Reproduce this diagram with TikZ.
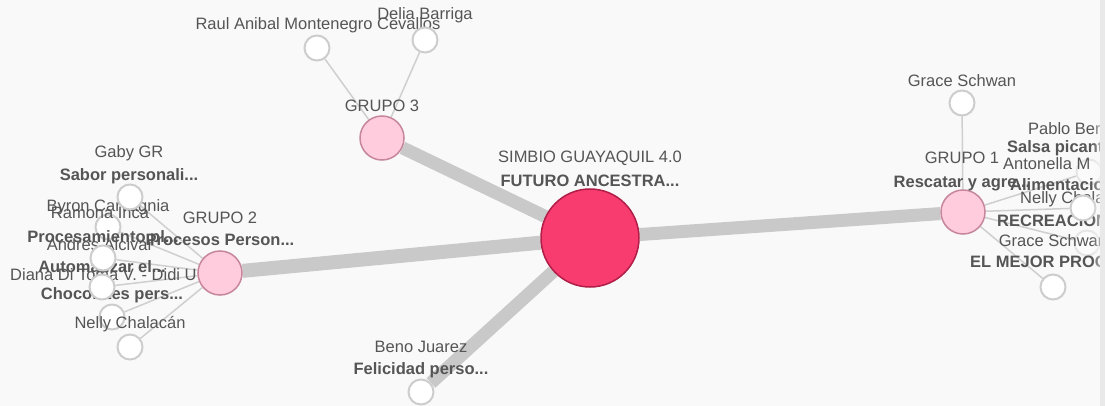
\documentclass[tikz,border=0pt]{standalone}
\usepackage{fontspec}
\setmainfont{Liberation Sans}
\definecolor{bgc}{HTML}{F9F9F9}
\definecolor{stripc}{HTML}{E9E9E9}
\definecolor{hubfill}{HTML}{F83C6F}
\definecolor{hubline}{HTML}{B01E48}
\definecolor{grpfill}{HTML}{FFCCDD}
\definecolor{grpline}{HTML}{C6869B}
\definecolor{leafline}{HTML}{CDCDCD}
\definecolor{edgec}{HTML}{C9C9C9}
\definecolor{thinc}{HTML}{CFCFCF}
\definecolor{txtc}{HTML}{555555}
\pgfdeclarelayer{bglayer}
\pgfdeclarelayer{edgelayer}
\pgfsetlayers{bglayer,edgelayer,main}
\newcommand\lblfont{\fontsize{16.5}{18}\selectfont}
\begin{document}
\begin{tikzpicture}[x=1pt,y=-1pt,
  hub/.style={circle,inner sep=0pt,minimum size=98pt,fill=hubfill,draw=hubline,line width=1.5pt},
  grp/.style={circle,inner sep=0pt,minimum size=44pt,fill=grpfill,draw=grpline,line width=1.5pt},
  leaf/.style={circle,inner sep=0pt,minimum size=25pt,fill=white,draw=leafline,line width=2pt},
  faint/.style={opacity=0.45},
  nm/.style={inner sep=0pt,text=txtc,font=\lblfont},
  ttl/.style={inner sep=0pt,text=txtc,font=\lblfont\bfseries},
  thick/.style={draw=edgec,line width=13pt},
  thin/.style={draw=thinc,line width=1.5pt}]
\begin{pgfonlayer}{bglayer}
\fill[bgc] (0,0) rectangle (1105,406);
\end{pgfonlayer}
\useasboundingbox (0,0) rectangle (1105,406);

% ---- GRUPO 3 cluster
\node[leaf] (raul) at (317,48) {};
\node[nm] (raulL) at (318,25) {Raul Anibal Montenegro Cevallos};
\node[leaf] (delia) at (425,40) {};
\node[nm] (deliaL) at (425,15) {Delia Barriga};
\node[grp] (g3) at (382,138) {};
\node[nm] (g3L) at (382,106) {GRUPO 3};

% ---- Beno
\node[leaf] (beno) at (421,392) {};
\node[nm] (benoN) at (421,347) {Beno Juarez};
\node[ttl] (benoT) at (421,370) {Felicidad perso...};

% ---- GRUPO 2 cluster
\node[leaf] (e2) at (112,317) {};
\node[nm,anchor=west] (e2N) at (10,275) {Diana Di Toma V. - Didi U};
\node[ttl] (e2T) at (112,295) {Chocolates pers...};
\node[leaf] (f2) at (130,347) {};
\node[nm] (f2N) at (130,324) {Nelly Chalacán};
\node[leaf] (d2) at (102,287) {};
\node[nm] (d2N) at (100,245) {Andres Alcivar};
\node[ttl] (d2T) at (102,267) {Automatizar el...};
\node[leaf] (b2) at (108,227) {};
\node[nm] (b2N) at (108,207) {Byron Carvagnia};
\node[leaf] (c2) at (103,258) {};
\node[nm] (c2N) at (100,213) {Ramona Inca};
\node[ttl] (c2T) at (103,238) {Procesamiento pl...};
\node[leaf] (a2) at (130,197) {};
\node[nm] (a2N) at (129,153) {Gaby GR};
\node[ttl] (a2T) at (129,176) {Sabor personali...};
\node[grp] (g2) at (220,273) {};
\node[nm] (g2N) at (220,218) {GRUPO 2};
\node[ttl] (g2T) at (220,240) {Procesos Person...};

% ---- GRUPO 1 cluster
\node[grp] (g1) at (963,212) {};
\node[nm] (g1N) at (962,158) {GRUPO 1};
\node[ttl] (g1T) at (962,184) {Rescatar y agre...};
\node[leaf] (gs) at (962,103) {};
\node[nm] (gsN) at (962,81) {Grace Schwan};
\node[leaf,faint] (pb) at (1089,172) {};
\node[nm,anchor=west] (pbN) at (1028,129) {Pablo Ber};
\node[ttl,anchor=west] (pbT) at (1007,148) {Salsa picant};
\node[leaf,faint] (nc) at (1087,243) {};
\node[nm,anchor=west] (ncN) at (1020,199) {Nelly Chala};
\node[ttl,anchor=west] (ncT) at (997,221) {RECREACION};
\node[leaf] (am) at (1083,208) {};
\node[nm,anchor=west] (amN) at (1003,164) {Antonella M};
\node[ttl,anchor=west] (amT) at (1010,185) {Alimentacio};
\node[leaf] (gs2) at (1053,287) {};
\node[nm] (gs2N) at (1053,241) {Grace Schwan};
\node[ttl,anchor=west] (gs2T) at (970,262) {EL MEJOR PROC};

% ---- hub
\node[hub] (hub) at (590,238) {};
\node[nm] (hubN) at (590,158) {SIMBIO GUAYAQUIL 4.0};
\node[ttl] (hubT) at (590,181) {FUTURO ANCESTRA...};

% ---- edges
\begin{pgfonlayer}{edgelayer}
\draw[thick] (hub) -- (g3);
\draw[thick,line width=14pt] (hub) -- (g2);
\draw[thick] (hub) -- (g1);
\draw[thick] (hub) -- (beno);
\foreach \l in {raul,delia} \draw[thin] (g3) -- (\l);
\foreach \l in {a2,b2,c2,d2,e2,f2} \draw[thin] (g2) -- (\l);
\foreach \l in {gs,pb,am,nc,gs2} \draw[thin] (g1) -- (\l);
\end{pgfonlayer}

% ---- right edge strip
\foreach \i in {0,...,7} \fill[bgc,opacity=0.07*\i] (1092+\i,0) rectangle (1093+\i,406);
\fill[stripc] (1100,0) rectangle (1105,406);
\end{tikzpicture}
\end{document}
